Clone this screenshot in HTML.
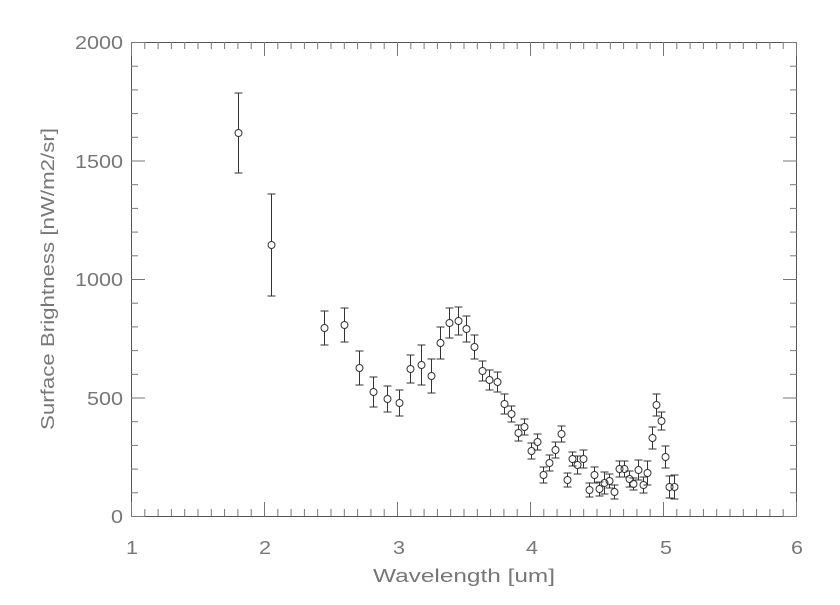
<!DOCTYPE html>
<html><head><meta charset="utf-8"><style>
html,body{margin:0;padding:0;background:#fff;}
text{font-family:"Liberation Sans",sans-serif;fill:#777;}
</style></head><body>
<svg id="s" width="840" height="600" xmlns="http://www.w3.org/2000/svg">
<rect x="131.5" y="42.5" width="665" height="474" fill="none" stroke="#555" stroke-width="1"/>
<g id="ticks" stroke="#777" stroke-width="1"></g>
<g id="data" stroke="#333" stroke-width="1" fill="none"></g>
<g font-size="18" text-anchor="end">
<text x="123" y="523" textLength="12" lengthAdjust="spacingAndGlyphs">0</text>
<text x="123" y="405" textLength="36" lengthAdjust="spacingAndGlyphs">500</text>
<text x="123" y="286" textLength="48" lengthAdjust="spacingAndGlyphs">1000</text>
<text x="123" y="168" textLength="48" lengthAdjust="spacingAndGlyphs">1500</text>
<text x="123" y="49" textLength="48" lengthAdjust="spacingAndGlyphs">2000</text>
</g>
<g font-size="18" text-anchor="middle">
<text x="132" y="554" textLength="12" lengthAdjust="spacingAndGlyphs">1</text>
<text x="265" y="554" textLength="12" lengthAdjust="spacingAndGlyphs">2</text>
<text x="399" y="554" textLength="12" lengthAdjust="spacingAndGlyphs">3</text>
<text x="532" y="554" textLength="12" lengthAdjust="spacingAndGlyphs">4</text>
<text x="666" y="554" textLength="12" lengthAdjust="spacingAndGlyphs">5</text>
<text x="797" y="554" textLength="12" lengthAdjust="spacingAndGlyphs">6</text>
<text x="464" y="582" textLength="182" lengthAdjust="spacingAndGlyphs">Wavelength [um]</text>
<text transform="translate(54,279) rotate(-90)" textLength="302" lengthAdjust="spacingAndGlyphs">Surface Brightness [nW/m2/sr]</text>
</g>
</svg>
<script>
var ns="http://www.w3.org/2000/svg";
function L(g,x1,y1,x2,y2){var l=document.createElementNS(ns,"line");l.setAttribute("x1",x1);l.setAttribute("y1",y1);l.setAttribute("x2",x2);l.setAttribute("y2",y2);g.appendChild(l);}
var t=document.getElementById("ticks");
for(var i=0;i<=50;i++){var x=131.5+i*13.3;var len=(i%10==0)?14:7;L(t,x,516,x,516-len);L(t,x,42,x,42+len);}
for(var j=0;j<=20;j++){var y=516.5-j*23.7;var len=(j%5==0)?14:7;L(t,131,y,131+len,y);L(t,797,y,797-len,y);}
var d=[[238,133,40],[271,245,51],[324,328,17],[344,325,17],[359,368,17],[373,392,15],[387,399,13],[399,403,13],
[410,369,14],[421,365,20],[431,376,17],[440,343,16],[449,323,15],[458,321,14],[466,329,13],[474,347,12],[482,371,10],[489,380,10],[497,382,10],[504,404,10],[511,414,8],[518,433,8],[524,427,8],[531,451,8],[537,442,8],[543,475,8],[549,463,8],[555,450,8],[561,434,8],[567,480,7],[572,459,7],[577,465,9],[583,459,9],[589,490,7],[594,475,8],[599,489,7],[604,483,11],[609,481,7],[614,492,7],[619,469,8],[624,469,8],[629,479,8],[633,484,6],[638,470,10],[643,485,8],[647,473,12],[652,438,11],[656,405,11],[661,421,9],[665,457,11],[669,487,11],[674,487,12]];
var g=document.getElementById("data");
d.forEach(function(p){var x=p[0]+0.5,y=p[1],e=p[2];
L(g,x,y-e,x,y-3.5);L(g,x,y+3.5,x,y+e);L(g,x-4,y-e,x+4,y-e);L(g,x-4,y+e,x+4,y+e);
var c=document.createElementNS(ns,"circle");c.setAttribute("cx",x);c.setAttribute("cy",y);c.setAttribute("r",3.5);g.appendChild(c);});
</script>
</body></html>
